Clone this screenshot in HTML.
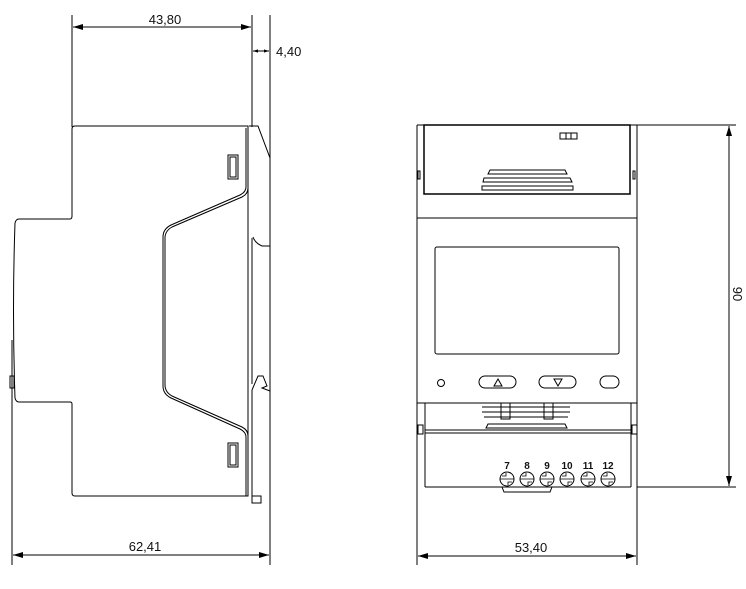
<!DOCTYPE html>
<html><head><meta charset="utf-8"><style>
html,body{margin:0;padding:0;background:#fff}
svg{display:block}
text{font-family:"Liberation Sans",sans-serif;fill:#111}
</style></head><body>
<svg width="746" height="589" viewBox="0 0 746 589" xmlns="http://www.w3.org/2000/svg">
<defs>
<marker id="a" viewBox="0 0 10 6" refX="10" refY="3" markerWidth="10" markerHeight="6" orient="auto-start-reverse" markerUnits="userSpaceOnUse"><path d="M0,0L10,3L0,6z" fill="#000"/></marker>
<marker id="s" viewBox="0 0 6 4" refX="6" refY="2" markerWidth="5" markerHeight="4" orient="auto-start-reverse" markerUnits="userSpaceOnUse"><path d="M0,0L6,2L0,4z" fill="#000"/></marker>
</defs>
<g stroke="#000" stroke-width="1" fill="none">
<!-- left view dims -->
<line x1="72" y1="15" x2="72" y2="127"/>
<line x1="252" y1="15" x2="252" y2="127"/>
<line x1="270" y1="15" x2="270" y2="565"/>
<line x1="73" y1="27" x2="251" y2="27" marker-start="url(#a)" marker-end="url(#a)"/>
<line x1="253" y1="51" x2="269" y2="51" marker-start="url(#s)" marker-end="url(#s)"/>
<line x1="12" y1="340" x2="12" y2="565"/>
<line x1="13" y1="555" x2="269" y2="555" marker-start="url(#a)" marker-end="url(#a)"/>
<!-- left body -->
<path d="M72,129 Q72,126 75,126 L248,126 L248,496 L75,496 Q72,496 72,493 L72,404 Q72,402 70,402 L19,402 Q16,402 15,398 Q12,310 15,223 Q16,219 19,219 L70,219 Q72,219 72,216 Z"/>
<path d="M248,128 L248,188 Q248,194 242,197 L172,227 Q165,231 165,238 L165,385 Q165,392 172,396 L242,427 Q248,430 248,436"/>
<path d="M246,128 L246,187 Q246,192 240,195 L171,225 Q163,229 163,237 L163,386 Q163,394 171,398 L240,429 Q246,432 246,437 L246,496"/>
<rect x="228" y="155" width="10" height="24"/>
<rect x="230" y="157" width="6" height="20"/>
<rect x="228" y="443" width="10" height="24"/>
<rect x="230" y="445" width="6" height="20"/>
<path d="M249,126 L258,126 L270,158 L270,246 L262,246 Q255,243 253,237"/>
<line x1="252" y1="238" x2="252" y2="384"/>
<path d="M252,390 L258,376 L263,376 L267,386 L262,388 L270,391 L270,496"/>
<line x1="252" y1="390" x2="252" y2="496"/>
<rect x="252" y="496" width="9" height="7"/>
<path d="M10,376 L14,376 L14,388 L10,388 Z"/>
<!-- right view -->
<line x1="417" y1="125" x2="417" y2="565"/>
<line x1="637" y1="125" x2="637" y2="565"/>
<line x1="417" y1="125" x2="736" y2="125"/>
<line x1="637" y1="487" x2="736" y2="487"/>
<line x1="729" y1="126" x2="729" y2="486" marker-start="url(#a)" marker-end="url(#a)"/>
<line x1="418" y1="556" x2="636" y2="556" marker-start="url(#a)" marker-end="url(#a)"/>
<rect x="424" y="125" width="206" height="69" stroke-width="1.5"/>
<rect x="418" y="171" width="2" height="8"/>
<rect x="633" y="171" width="2" height="8"/>
<rect x="560" y="133" width="17" height="6"/>
<line x1="566" y1="133" x2="566" y2="139"/><line x1="571" y1="133" x2="571" y2="139"/>
<path d="M490,170 L565,170 L567,174 L488,174 Z"/>
<path d="M484,178 L570,178 L572,182 L483,182 Z"/>
<path d="M482,186 L573,186 L573,190 L482,190 Z"/>
<line x1="417" y1="218" x2="637" y2="218"/>
<rect x="435" y="247" width="184" height="107" rx="2"/>
<circle cx="441" cy="383" r="3.5"/>
<rect x="479" y="376" width="37" height="12" rx="6"/>
<path d="M494,386 L498,379 L502,386 Z"/>
<rect x="539" y="376" width="37" height="12" rx="6"/>
<path d="M554,379 L558,386 L562,379 Z"/>
<rect x="600" y="376" width="19" height="12" rx="6"/>
<line x1="417" y1="403" x2="637" y2="403"/>
<line x1="425" y1="403" x2="425" y2="487"/>
<line x1="631" y1="403" x2="631" y2="487"/>
<rect x="418" y="425" width="5" height="9"/>
<rect x="632" y="425" width="5" height="9"/>
<line x1="425" y1="430" x2="631" y2="430"/>
<line x1="425" y1="433" x2="631" y2="433"/>
<path d="M482,407 L570,407 M482,412 L570,412 M484,417 L568,417 M488,424 L565,424 L567,428 L486,428 Z"/>
<rect x="501" y="403" width="9" height="16"/>
<rect x="544" y="403" width="9" height="16"/>
<line x1="425" y1="487" x2="631" y2="487"/>
<path d="M502,487 L504,492 L550,492 L552,487"/>
<g stroke-width="1">
<circle cx="507" cy="479" r="7"/><circle cx="527" cy="479" r="7"/><circle cx="547" cy="479" r="7"/>
<circle cx="567" cy="479" r="7"/><circle cx="588" cy="479" r="7"/><circle cx="608" cy="479" r="7"/>
<path d="M500,479h14M502,476l4,0l0,-3M512,482l-4,0l0,3 M520,479h14M522,476l4,0l0,-3M532,482l-4,0l0,3 M540,479h14M542,476l4,0l0,-3M552,482l-4,0l0,3 M560,479h14M562,476l4,0l0,-3M572,482l-4,0l0,3 M581,479h14M583,476l4,0l0,-3M593,482l-4,0l0,3 M601,479h14M603,476l4,0l0,-3M613,482l-4,0l0,3" stroke-width="0.8"/>
</g>
</g>
<g font-size="13">
<text x="165" y="24" text-anchor="middle">43,80</text>
<text x="276" y="56">4,40</text>
<text x="145" y="551" text-anchor="middle">62,41</text>
<text x="531" y="552" text-anchor="middle">53,40</text>
<text x="0" y="0" transform="translate(733,294) rotate(90)" text-anchor="middle">90</text>
</g>
<g font-size="10" font-weight="bold" text-anchor="middle">
<text x="507" y="469">7</text><text x="527" y="469">8</text><text x="547" y="469">9</text>
<text x="567" y="469">10</text><text x="588" y="469">11</text><text x="608" y="469">12</text>
</g>
</svg>
</body></html>
